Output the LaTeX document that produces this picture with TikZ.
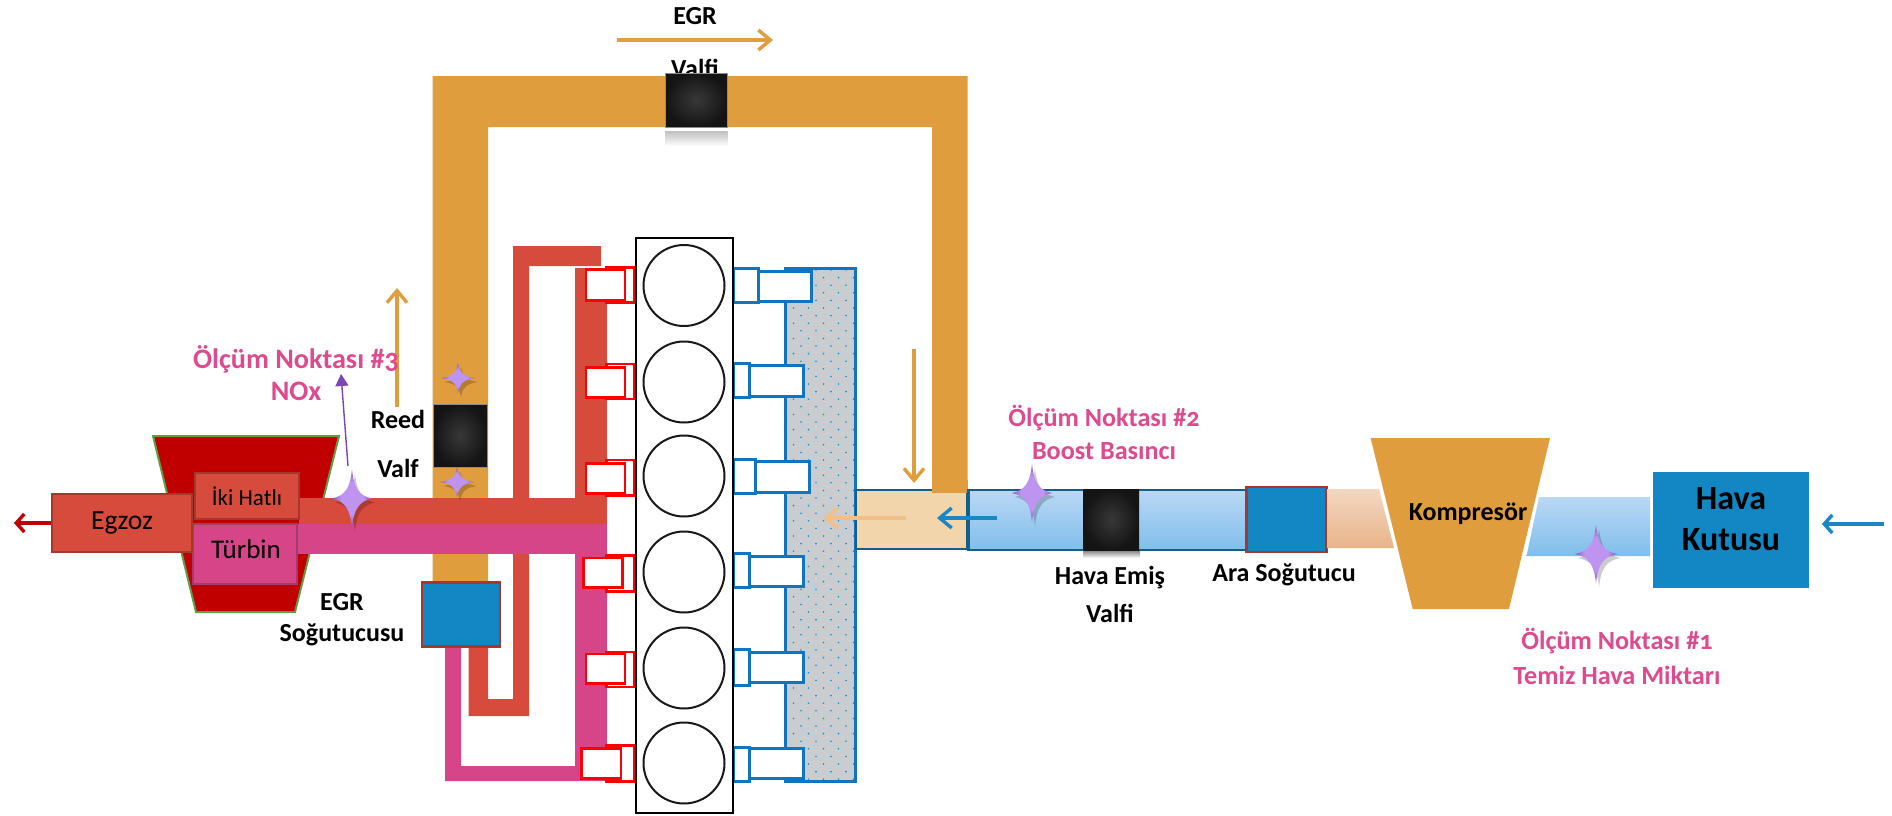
\documentclass[tikz,border=0pt]{standalone}
\usepackage{fontspec}
\setmainfont[Numbers=OldStyle]{Carlito}
\usetikzlibrary{arrows.meta}
\definecolor{egr}{HTML}{E09D3E}
\definecolor{redp}{HTML}{D64B3B}
\definecolor{redb}{HTML}{A5372C}
\definecolor{pinkp}{HTML}{D64587}
\definecolor{pinkb}{HTML}{A63A6C}
\definecolor{txtp}{HTML}{DD4A8E}
\definecolor{bluebox}{HTML}{1287C4}
\definecolor{portblue}{HTML}{0F75C2}
\definecolor{tealb}{HTML}{155F86}
\definecolor{tanf}{HTML}{F3D5AC}
\definecolor{dotgray}{HTML}{C9CDD0}
\definecolor{starA}{HTML}{BE94F0}
\definecolor{starB}{HTML}{5E3596}
\definecolor{valveA}{HTML}{383838}
\definecolor{valveB}{HTML}{141414}
\definecolor{bluetop}{HTML}{BAD8F4}
\definecolor{bluebot}{HTML}{80BEEC}
\definecolor{tantop}{HTML}{F3D7C0}
\definecolor{tanbot}{HTML}{E8B48A}
\definecolor{lightarrow}{HTML}{F0C088}
\definecolor{flowblue}{HTML}{1C86C4}
\definecolor{darkred}{HTML}{C00000}
\definecolor{arrowpurple}{HTML}{7A45B5}
\definecolor{housing}{HTML}{5F9E45}
\pgfdeclareradialshading{starshade}{\pgfpoint{0bp}{0bp}}{color(0bp)=(starA); color(14bp)=(starA); color(32bp)=(starB); color(50bp)=(starB)}
\tikzset{
  x=0.5pt,y=-0.5pt,
  pipeegr/.style={fill=egr},
  pipered/.style={fill=redp},
  pipepink/.style={fill=pinkp},
  exhport/.style={draw=red,fill=white,line width=1.3pt},
  intport/.style={draw=portblue,fill=white,line width=1.5pt},
  cyl/.style={circle,draw=black!90,line width=1pt,minimum size=40.5pt,inner sep=0pt},
  lab/.style={font=\fontsize{13}{15}\selectfont\bfseries,text=black,inner sep=0pt,align=center},
  pinklab/.style={font=\fontsize{14.1}{16}\selectfont\bfseries,text=txtp,inner sep=0pt,align=center},
  pinklabs/.style={pinklab,font=\fontsize{13.1}{15}\selectfont\bfseries},
  flow/.style={line width=1.7pt,-{Straight Barb[length=6pt,width=10pt,line width=1.7pt]}},
  flowshort/.style={line width=1.7pt,-{Straight Barb[length=4pt,width=9pt,line width=1.7pt]}},
  hotbox/.style={draw=redb,line width=1.2pt,inner sep=0pt},
  valve/.style={inner color=valveA,outer color=valveB}
}
\newcommand{\fourstarpath}[4]{(#1-#3,#2) .. controls (#1-0.35*#3,#2-0.1*#4) and (#1-0.1*#3,#2-0.35*#4) .. (#1,#2-#4)
    .. controls (#1+0.1*#3,#2-0.35*#4) and (#1+0.35*#3,#2-0.1*#4) .. (#1+#3,#2)
    .. controls (#1+0.35*#3,#2+0.1*#4) and (#1+0.1*#3,#2+0.35*#4) .. (#1,#2+#4)
    .. controls (#1-0.1*#3,#2+0.35*#4) and (#1-0.35*#3,#2+0.1*#4) .. cycle}
\newcommand{\fourstar}[4]{%
  \fill[black,opacity=0.2,shift={(3,4)}] \fourstarpath{#1}{#2}{#3}{#4};
  \shade[shading=starshade] \fourstarpath{#1}{#2}{#3}{#4};}
\begin{document}
\begin{tikzpicture}
\useasboundingbox[fill=white] (0,0) rectangle (1892,815);
% EGR circuit
\fill[pipeegr] (432.5,582) -- (432.5,76) -- (967.5,76) -- (967.5,493) -- (932,493) -- (932,127) -- (488,127) -- (488,582) -- cycle;
% Labels partly hidden by the valve
\node[lab] (egrtop) at (695,16) {EGR};
\node[lab] (valfitop) at (695,68) {Valfi};
\coordinate (egrA) at (617,40); \coordinate (egrB) at (773,40);
\draw[flow,egr] (egrA) -- (egrB);
% EGR valve
\shade[top color=black!25,bottom color=white] (665,131) rectangle (727.5,146);
\shadedraw[valve,draw=black!45,line width=.5pt] (665,73) rectangle (727.5,127);
% Reed valve
\shadedraw[valve,draw=black!45,line width=.5pt] (433.5,404) rectangle (487,467);
% Hot pipes
\fill[pipered] (513,246) -- (601,246) -- (601,266) -- (529,266) -- (529,716) -- (468.5,716) -- (468.5,640) -- (488,640) -- (488,699) -- (513,699) -- cycle;
\fill[pipepink] (445,640) -- (461,640) -- (461,766) -- (575,766) -- (575,524) -- (607,524) -- (607,781) -- (445,781) -- cycle;
\fill[pipepink] (296,524) rectangle (607,554);
\fill[pipered] (575,268) -- (607,268) -- (607,524) -- (296,524) -- (296,498) -- (575,498) -- cycle;
% Turbine housing
\draw[fill=darkred,draw=housing,line width=1pt] (153,436) -- (339,436) -- (295,612) -- (196,612) -- cycle;
\fill[pipered] (299,498) -- (332,498) -- (332,524) -- (299,524) -- cycle;
\fill[pipepink] (297,524) rectangle (320,554);
\node[hotbox,fill=redp,minimum width=52pt,minimum height=23pt,font=\fontsize{11.5}{13}\selectfont] (ikihat) at (247,496) {İki Hatlı};
\node[draw=pinkb,line width=1.2pt,fill=pinkp,inner sep=0pt,minimum width=52pt,minimum height=30pt] (turbin) at (245,554) {};
\node[inner sep=0pt,font=\fontsize{13.5}{15}\selectfont] (turbinlab) at (246,549) {Türbin};
\node[hotbox,fill=redp,minimum width=70pt,minimum height=29pt,font=\fontsize{13.8}{16}\selectfont] (egzoz) at (122,523) {Egzoz};
\coordinate (exh) at (14,523);
\draw[flowshort,darkred] (egzoz.west) -- (exh);
% EGR cooler
\node[draw=redb,line width=1.2pt,fill=bluebox,inner sep=0pt,minimum width=39pt,minimum height=32pt] (egrcool) at (461,614.5) {};
% Intake manifold
\fill[dotgray] (785.7,268) rectangle (855.7,781.5);
\begin{scope}
\clip (785.7,268) rectangle (855.7,781.5);
\foreach \r in {0,...,67}{
  \pgfmathsetmacro{\yy}{270+\r*7.6}
  \pgfmathsetmacro{\off}{mod(\r,2)*7.5}
  \foreach \c in {0,...,5}{
    \fill[cyan!80!blue] (786+\off+\c*15,\yy) circle (0.45pt);
  }
}
\end{scope}
\draw[portblue,line width=1.5pt] (785.7,781.5) rectangle (855.7,268);
% Intake ports
\foreach \cb/\ca/\cc/\db/\da/\dc in {
  755/268/302.6/595/271.4/301,
  730/363/397.4/568/365.8/396,
  748/459/493.3/585/461.7/492,
  730/553/587.7/568/556/586,
  730/649/685/568/652/682,
  730/747/781/568/748/778}{
  \pgfmathsetmacro{\xs}{560+\db/3}
  \pgfmathsetmacro{\xe}{560+\cb/3}
  \draw[intport] (733.5,\ca) rectangle (\xs,\cc);
  \draw[intport] (\xs,\da) rectangle (\xe,\dc);
}
% Exhaust ports
\foreach \ax/\bx/\ya/\yb/\yc/\yd in {
  78/195/269.5/300.7/267.6/302.6,
  78/195/367.7/397.4/363.9/399,
  78/195/463.6/493.3/459.8/495.2,
  70/188/558/587.7/555.7/591.2,
  78/195/654/683.7/652/687,
  65/183/748.3/778.4/745.3/781.5}{
  \pgfmathsetmacro{\xa}{560+\ax/3}
  \pgfmathsetmacro{\xb}{560+\bx/3}
  \draw[exhport] (606.7,\yc) rectangle (634,\yd);
  \draw[exhport] (\xa,\ya) rectangle (\xb,\yb);
}
% Engine block
\draw[fill=white,draw=black,line width=1.3pt] (636,238) rectangle (733,813);
\foreach \cy/\nm in {285.5/a,382/b,476/c,572/d,668/e,763/f}{
  \node[cyl] (cy\nm) at (684,\cy) {};
}
% Air path
\draw[fill=tanf,draw=tealb,line width=1.2pt] (855.7,490) rectangle (967,549);
\fill[egr] (932,480) rectangle (967.5,493);
\shadedraw[top color=bluetop,bottom color=bluebot,draw=tealb,line width=1.2pt] (968.5,490) rectangle (1247,550);
\shade[top color=black!45,bottom color=white] (1083,551) rectangle (1140,558);
\shade[valve] (1083.5,489) rectangle (1139,550);
\node[draw=redb,line width=1.2pt,fill=bluebox,inner sep=0pt,minimum width=40pt,minimum height=32.5pt] (intercool) at (1286.5,519.5) {};
\shade[top color=tantop,bottom color=tanbot] (1327,489) -- (1379,489) -- (1394,548) -- (1327,548) -- cycle;
\shade[top color=bluetop,bottom color=bluebot] (1539,497) -- (1650,497) -- (1650,556) -- (1526.5,556) -- cycle;
\fill[egr] (1370.6,438) -- (1550,438) -- (1509,609) -- (1412.7,609) -- cycle;
\node[fill=bluebox,inner sep=0pt,minimum width=78pt,minimum height=58pt] (havabox) at (1731,530) {};
% Flow arrows
\coordinate (upA) at (397,407); \coordinate (upB) at (397,288);
\draw[flow,egr] (upA) -- (upB);
\coordinate (dnA) at (914,349); \coordinate (dnB) at (914,483);
\draw[flow,egr] (dnA) -- (dnB);
\coordinate (ltA) at (906,518); \coordinate (ltB) at (823,518);
\draw[flow,lightarrow] (ltA) -- (ltB);
\coordinate (blA) at (997,518); \coordinate (blB) at (937,518);
\draw[flow,flowblue] (blA) -- (blB);
\coordinate (inA) at (1884,524); \coordinate (inB) at (1822,524);
\draw[flowshort,flowblue] (inA) -- (inB);
% Measuring stars
\fourstar{458}{378}{17}{15}
\fourstar{457}{482}{17}{15}
\coordinate (nxA) at (348,466); \coordinate (nxB) at (341,374);
\draw[arrowpurple,line width=.7pt,-{Triangle[length=6pt,width=6.5pt]}] (nxA) -- (nxB);
\fourstar{352}{498.5}{20}{29}
\fourstar{1032}{493}{20}{29}
\fourstar{1596}{554}{21}{29}
% Labels
\node[pinklab] (m3a) at (296,359) {Ölçüm Noktası \#3};
\node[pinklab] (m3b) at (296,391) {NOx};
\node[pinklabs] (m2a) at (1104,418) {Ölçüm Noktası \#2};
\node[pinklabs] (m2b) at (1104,451) {Boost Basıncı};
\node[pinklabs] (m1a) at (1617,641) {Ölçüm Noktası \#1};
\node[pinklabs] (m1b) at (1617,675) {Temiz Hava Miktarı};
\node[lab] (reed) at (398,419) {Reed};
\node[lab] (valf) at (398,468) {Valf};
\node[lab] (egrc1) at (342,602) {EGR};
\node[lab] (egrc2) at (342,635) {Soğutucusu};
\node[lab] (hv1) at (1110,578) {Hava Emiş};
\node[lab] (hv2) at (1110,613) {Valfi};
\node[lab] (ara) at (1284,575) {Ara Soğutucu};
\node[lab] (komp) at (1468,514) {Kompresör};
\node[lab,font=\fontsize{17}{19}\selectfont\bfseries] (hk1) at (1731,499) {Hava};
\node[lab,font=\fontsize{17}{19}\selectfont\bfseries] (hk2) at (1731,540) {Kutusu};
\end{tikzpicture}
\end{document}
